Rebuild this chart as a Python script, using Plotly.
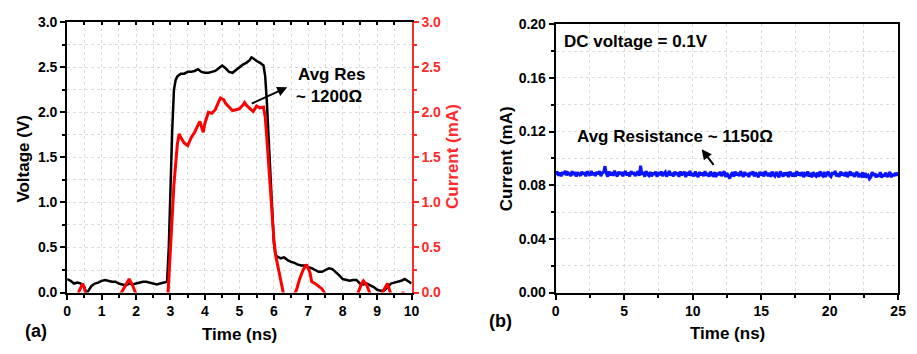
import plotly.graph_objects as go

# ---------------- Data ----------------
# Panel (a): voltage (V) vs time (ns)
volt_t = [0.0, 0.1, 0.2, 0.3, 0.4, 0.5, 0.55, 0.6, 0.7, 0.8, 0.9, 1.0, 1.1, 1.2, 1.3, 1.4, 1.5, 1.6,
          1.7, 1.8, 1.9, 2.0, 2.1, 2.2, 2.3, 2.4, 2.5, 2.6, 2.7, 2.8, 2.9, 2.95, 3.0, 3.05, 3.1, 3.15,
          3.2, 3.3, 3.4, 3.5, 3.6, 3.7, 3.8, 3.9, 4.0, 4.1, 4.2, 4.3, 4.4, 4.5, 4.6, 4.7, 4.8, 4.9,
          5.0, 5.1, 5.2, 5.3, 5.35, 5.4, 5.5, 5.6, 5.7, 5.75, 5.8, 5.85, 5.9, 5.95, 6.0, 6.05, 6.1,
          6.2, 6.3, 6.4, 6.5, 6.6, 6.7, 6.8, 6.9, 7.0, 7.1, 7.2, 7.3, 7.4, 7.5, 7.6, 7.7, 7.8, 7.9,
          8.0, 8.1, 8.2, 8.3, 8.4, 8.5, 8.6, 8.7, 8.8, 8.9, 9.0, 9.1, 9.2, 9.3, 9.4, 9.5, 9.6, 9.7,
          9.8, 9.9, 10.0]
volt_v = [0.15, 0.13, 0.10, 0.11, 0.10, 0.06, 0.00, 0.01, 0.07, 0.10, 0.11, 0.13, 0.14, 0.13, 0.12,
          0.12, 0.10, 0.09, 0.08, 0.10, 0.09, 0.10, 0.11, 0.12, 0.12, 0.11, 0.10, 0.09, 0.10, 0.11,
          0.12, 0.50, 1.20, 1.80, 2.25, 2.36, 2.40, 2.43, 2.43, 2.45, 2.45, 2.46, 2.48, 2.45, 2.44,
          2.44, 2.45, 2.46, 2.49, 2.52, 2.49, 2.45, 2.44, 2.47, 2.51, 2.53, 2.55, 2.58, 2.61, 2.60,
          2.57, 2.55, 2.52, 2.40, 2.10, 1.70, 1.30, 0.90, 0.55, 0.42, 0.40, 0.38, 0.39, 0.36, 0.34,
          0.33, 0.31, 0.30, 0.30, 0.28, 0.27, 0.25, 0.23, 0.23, 0.25, 0.27, 0.26, 0.23, 0.19, 0.15,
          0.14, 0.13, 0.14, 0.14, 0.10, 0.09, 0.10, 0.08, 0.06, 0.03, 0.02, 0.02, 0.06, 0.10, 0.11,
          0.12, 0.13, 0.15, 0.12, 0.10]

# Panel (a): current (mA) vs time (ns); negative values fall below the visible range
curr_t = [0.0, 0.3, 0.35, 0.45, 0.5, 0.55, 0.7, 1.4, 1.55, 1.65, 1.8, 1.9, 2.0, 2.2, 2.8, 2.93, 3.0,
          3.1, 3.2, 3.25, 3.3, 3.4, 3.5, 3.6, 3.7, 3.8, 3.85, 3.9, 3.95, 4.0, 4.1, 4.2, 4.3, 4.4,
          4.45, 4.55, 4.6, 4.7, 4.8, 4.9, 5.0, 5.1, 5.15, 5.2, 5.3, 5.4, 5.5, 5.6, 5.7, 5.75, 5.8,
          5.85, 5.9, 5.95, 6.0, 6.05, 6.1, 6.2, 6.3, 6.5, 6.55, 6.65, 6.75, 6.85, 6.95, 7.05, 7.1,
          7.2, 7.3, 7.4, 7.5, 7.7, 8.3, 8.45, 8.55, 8.6, 8.7, 8.8, 8.9, 9.05, 9.15, 9.3, 9.4, 9.5,
          9.7, 9.75, 9.8, 10.0]
curr_i = [-0.3, -0.05, 0.02, 0.10, 0.05, -0.05, -0.3, -0.3, -0.02, 0.05, 0.15, 0.08, -0.02, -0.3,
          -0.3, 0.0, 0.5, 1.2, 1.65, 1.76, 1.72, 1.66, 1.63, 1.72, 1.78, 1.85, 1.90, 1.84, 1.78,
          1.88, 2.00, 1.99, 2.03, 2.12, 2.16, 2.14, 2.10, 2.06, 2.02, 2.03, 2.04, 2.08, 2.11, 2.08,
          2.05, 2.01, 2.07, 2.05, 2.06, 1.95, 1.70, 1.40, 1.15, 0.90, 0.60, 0.42, 0.32, 0.15, -0.05,
          -0.3, -0.05, 0.02, 0.15, 0.25, 0.31, 0.22, 0.12, 0.10, 0.07, 0.04, -0.02, -0.3, -0.3, 0.0,
          0.10, 0.13, 0.08, -0.02, -0.3, -0.3, 0.0, 0.10, -0.02, -0.3, -0.3, 0.01, -0.3, -0.3]

# Panel (b): DC current (mA), one sample every 0.1 ns from 0 to 25 ns
dc_step = 0.1
dc_i = [
    0.0878, 0.0902, 0.0871, 0.0895, 0.0866, 0.0899, 0.0880, 0.0907, 0.0874, 0.0893,
    0.0886, 0.0868, 0.0904, 0.0877, 0.0898, 0.0865, 0.0896, 0.0884, 0.0870, 0.0901,
    0.0879, 0.0897, 0.0867, 0.0903, 0.0882, 0.0872, 0.0906, 0.0876, 0.0894, 0.0869,
    0.0900, 0.0881, 0.0905, 0.0868, 0.0892, 0.0898, 0.0942, 0.0886, 0.0864, 0.0903,
    0.0874, 0.0897, 0.0870, 0.0908, 0.0883, 0.0866, 0.0901, 0.0879, 0.0899, 0.0867,
    0.0892, 0.0904, 0.0873, 0.0895, 0.0865, 0.0906, 0.0881, 0.0898, 0.0869, 0.0890,
    0.0903, 0.0870, 0.0945, 0.0877, 0.0899, 0.0863, 0.0905, 0.0882, 0.0872, 0.0898,
    0.0866, 0.0894, 0.0878, 0.0902, 0.0862, 0.0897, 0.0875, 0.0903, 0.0868, 0.0889,
    0.0899, 0.0864, 0.0885, 0.0906, 0.0871, 0.0893, 0.0866, 0.0901, 0.0877, 0.0895,
    0.0862, 0.0903, 0.0874, 0.0890, 0.0900, 0.0860, 0.0897, 0.0872, 0.0906, 0.0869,
    0.0891, 0.0866, 0.0902, 0.0878, 0.0861, 0.0899, 0.0873, 0.0895, 0.0867, 0.0904,
    0.0872, 0.0890, 0.0864, 0.0901, 0.0879, 0.0865, 0.0897, 0.0860, 0.0893, 0.0876,
    0.0900, 0.0868, 0.0886, 0.0903, 0.0862, 0.0891, 0.0870, 0.0850, 0.0878, 0.0898,
    0.0864, 0.0902, 0.0875, 0.0893, 0.0867, 0.0905, 0.0879, 0.0863, 0.0899, 0.0872,
    0.0890, 0.0861, 0.0898, 0.0877, 0.0903, 0.0866, 0.0894, 0.0873, 0.0860, 0.0900,
    0.0874, 0.0896, 0.0865, 0.0904, 0.0881, 0.0869, 0.0893, 0.0862, 0.0901, 0.0877,
    0.0868, 0.0899, 0.0876, 0.0859, 0.0903, 0.0883, 0.0864, 0.0895, 0.0871, 0.0897,
    0.0861, 0.0901, 0.0878, 0.0866, 0.0892, 0.0863, 0.0905, 0.0874, 0.0894, 0.0869,
    0.0898, 0.0860, 0.0884, 0.0871, 0.0903, 0.0865, 0.0891, 0.0858, 0.0897, 0.0875,
    0.0867, 0.0894, 0.0862, 0.0904, 0.0878, 0.0869, 0.0899, 0.0861, 0.0886, 0.0901,
    0.0872, 0.0864, 0.0897, 0.0879, 0.0906, 0.0866, 0.0890, 0.0862, 0.0902, 0.0875,
    0.0893, 0.0868, 0.0899, 0.0860, 0.0880, 0.0903, 0.0871, 0.0894, 0.0863, 0.0886,
    0.0900, 0.0861, 0.0878, 0.0869, 0.0896, 0.0857, 0.0891, 0.0866, 0.0874, 0.0848,
    0.0860, 0.0898, 0.0870, 0.0889, 0.0858, 0.0881, 0.0865, 0.0897, 0.0856, 0.0884,
    0.0867, 0.0894, 0.0861, 0.0876, 0.0899, 0.0859, 0.0885, 0.0868, 0.0893, 0.0872,
    0.0896,
]
dc_t = [round(k * dc_step, 2) for k in range(len(dc_i))]

# ---------------- Styling ----------------
W, H = 917, 354
FONT = "Liberation Sans"
RED = "#ff2a2a"
GRID = "#dcdcdc"


def px(x):
    return x / W


def py(y):
    return 1 - y / H


tickfont = dict(family=FONT, size=14, color="black", weight="bold")
redtick = dict(family=FONT, size=14, color=RED, weight="bold")

fig = go.Figure()
fig.add_trace(go.Scatter(x=volt_t, y=volt_v, mode="lines", line=dict(color="black", width=2.5),
                         xaxis="x", yaxis="y", showlegend=False, hoverinfo="skip"))
fig.add_trace(go.Scatter(x=curr_t, y=curr_i, mode="lines", line=dict(color="#ff0000", width=3),
                         xaxis="x", yaxis="y2", showlegend=False, hoverinfo="skip"))
# invisible helper so the top tick axis of panel (a) is drawn
fig.add_trace(go.Scatter(x=[0, 10], y=[-1, -1], mode="markers", marker=dict(opacity=0),
                         xaxis="x2", yaxis="y", showlegend=False, hoverinfo="skip"))
fig.add_trace(go.Scatter(x=dc_t, y=dc_i, mode="lines", line=dict(color="#0a14ff", width=3),
                         xaxis="x3", yaxis="y3", showlegend=False, hoverinfo="skip"))

common_grid = dict(showgrid=True, gridcolor=GRID, griddash="dot", gridwidth=1, zeroline=False)

fig.update_layout(
    width=W, height=H, margin=dict(l=0, r=0, t=0, b=0),
    paper_bgcolor="white", plot_bgcolor="white",
    xaxis=dict(domain=[px(64), px(413)], range=[0, 10], dtick=1, anchor="y",
               ticks="outside", ticklen=5, tickwidth=1.5, tickcolor="black",
               showline=True, linecolor="black", linewidth=2, tickfont=tickfont,
               minor=dict(dtick=0.5, ticks="outside", ticklen=3, tickcolor="black",
                          showgrid=True, gridcolor=GRID, griddash="dot"),
               **common_grid),
    xaxis2=dict(overlaying="x", side="top", anchor="y", range=[0, 10], dtick=0.5,
                ticks="inside", ticklen=3, tickwidth=1.5, tickcolor="black",
                showticklabels=False, showline=True, linecolor="black", linewidth=2,
                showgrid=False, zeroline=False),
    yaxis=dict(domain=[py(298), py(15)], range=[0, 3], dtick=0.5, tickformat=".1f", anchor="x",
               ticks="outside", ticklen=5, tickwidth=1.5, tickcolor="black",
               showline=True, linecolor="black", linewidth=2, tickfont=tickfont,
               minor=dict(dtick=0.25, ticks="outside", ticklen=3, tickcolor="black",
                          showgrid=True, gridcolor=GRID, griddash="dot"),
               **common_grid),
    yaxis2=dict(overlaying="y", side="right", anchor="x", range=[0, 3], dtick=0.5,
                tickformat=".1f", ticks="outside", ticklen=5, tickwidth=1.5, tickcolor=RED,
                showline=True, linecolor=RED, linewidth=2, tickfont=redtick,
                minor=dict(dtick=0.25, ticks="outside", ticklen=3, tickcolor=RED),
                showgrid=False, zeroline=False),
    xaxis3=dict(domain=[px(559), px(906)], range=[0, 25], dtick=5, anchor="y3",
                ticks="outside", ticklen=5, tickwidth=1.5, tickcolor="black",
                showline=True, linecolor="black", linewidth=2, mirror=True, tickfont=tickfont,
                minor=dict(dtick=2.5, ticks="outside", ticklen=3, tickcolor="black",
                           showgrid=True, gridcolor=GRID, griddash="dot"),
                **common_grid),
    yaxis3=dict(domain=[py(298), py(17)], range=[0, 0.2], dtick=0.04, tickformat=".2f",
                anchor="x3", ticks="outside", ticklen=5, tickwidth=1.5, tickcolor="black",
                showline=True, linecolor="black", linewidth=2, mirror=True, tickfont=tickfont,
                minor=dict(dtick=0.02, ticks="outside", ticklen=3, tickcolor="black",
                           showgrid=True, gridcolor=GRID, griddash="dot"),
                **common_grid),
)

ann = []


def label(text, x, y, angle=0, color="black", size=17):
    ann.append(dict(text=text, x=px(x), y=py(y), xref="paper", yref="paper",
                    showarrow=False, textangle=angle, xanchor="center", yanchor="middle",
                    font=dict(family=FONT, size=size, color=color, weight="bold")))


label("Voltage (V)", 20, 158, angle=-90)
label("Current (mA)", 455, 156, angle=-90, color=RED)
label("Time (ns)", 239, 342)
label("(a)", 32, 338, size=18)
label("Avg Res", 332, 70)
label("~ 1200Ω", 329, 93)

label("Current (mA)", 510, 158, angle=-90)
label("Time (ns)", 733, 341)
label("(b)", 503, 328, size=18)
label("DC voltage = 0.1V", 640, 35)
label("Avg Resistance ~ 1150Ω", 680, 135)

# arrows
ann.append(dict(text="", x=px(287), y=py(83), xref="paper", yref="paper", showarrow=True,
                ax=-37, ay=17, arrowhead=2, arrowsize=1, arrowwidth=2, arrowcolor="black"))
ann.append(dict(text="", x=px(707), y=py(148), xref="paper", yref="paper", showarrow=True,
                ax=13, ay=17, arrowhead=2, arrowsize=1, arrowwidth=2, arrowcolor="black"))

fig.update_layout(annotations=ann)
fig.write_html("out.html")
